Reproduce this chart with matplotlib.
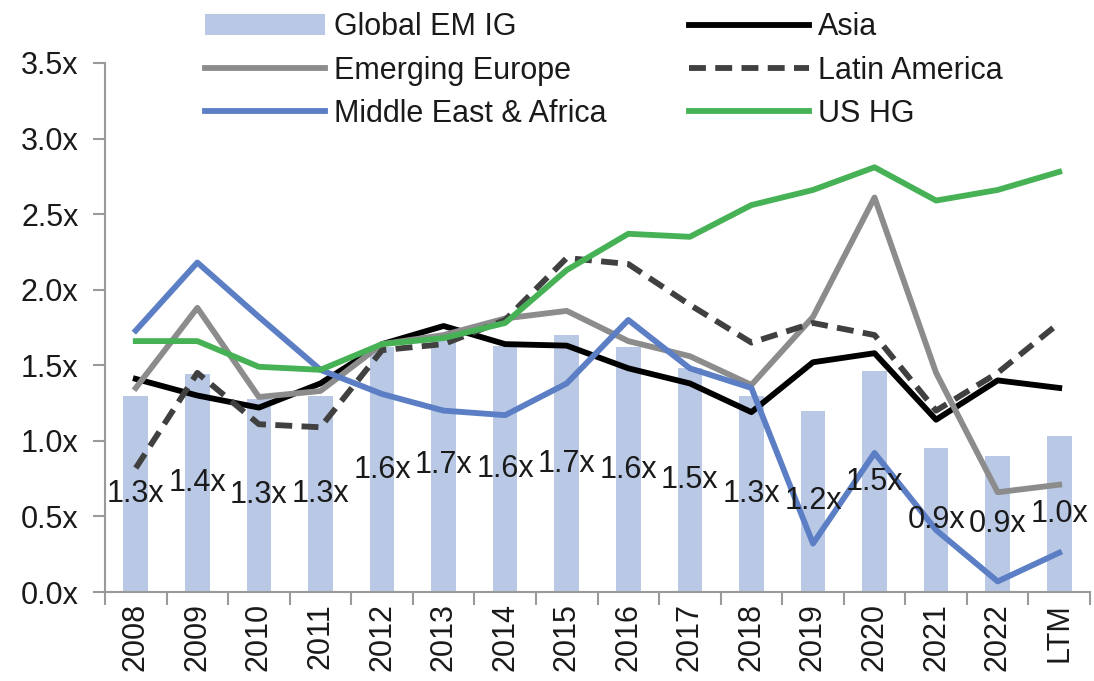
import numpy as np
import matplotlib
matplotlib.use("Agg")
import matplotlib.pyplot as plt

# ────────────────────────────────────────────────────────────────
# DATA
# ────────────────────────────────────────────────────────────────
years = ["2008", "2009", "2010", "2011", "2012", "2013", "2014", "2015",
         "2016", "2017", "2018", "2019", "2020", "2021", "2022", "LTM"]

global_em_ig = [1.30, 1.44, 1.28, 1.30, 1.62, 1.68, 1.63, 1.70,
                1.62, 1.48, 1.30, 1.20, 1.46, 0.95, 0.90, 1.03]
asia = [1.41, 1.30, 1.22, 1.38, 1.64, 1.76, 1.64, 1.63,
        1.48, 1.38, 1.19, 1.52, 1.58, 1.14, 1.40, 1.35]
emerging_europe = [1.35, 1.88, 1.29, 1.33, 1.64, 1.70, 1.81, 1.86,
                   1.66, 1.56, 1.37, 1.82, 2.61, 1.45, 0.66, 0.71]
latin_america = [0.82, 1.45, 1.11, 1.09, 1.60, 1.64, 1.80, 2.21,
                 2.17, 1.90, 1.65, 1.78, 1.70, 1.20, 1.45, 1.78]
mea = [1.73, 2.18, 1.82, 1.47, 1.31, 1.20, 1.17, 1.38,
       1.80, 1.48, 1.35, 0.32, 0.92, 0.41, 0.07, 0.26]
us_hg = [1.66, 1.66, 1.49, 1.47, 1.64, 1.68, 1.78, 2.13,
         2.37, 2.35, 2.56, 2.66, 2.81, 2.59, 2.66, 2.78]

# ────────────────────────────────────────────────────────────────
# STYLE
# ────────────────────────────────────────────────────────────────
plt.rcParams['font.family'] = ['Liberation Sans', 'DejaVu Sans']
FS = 22
TXT = '#1a1a1a'
AXIS_GREY = '#9a9a9a'
LW = 4.2

fig = plt.figure(figsize=(10.94, 6.81), dpi=100)
ax = fig.add_axes([105 / 1094, 1 - 592 / 681, (1090 - 105) / 1094, (592 - 63) / 681])

x = np.arange(len(years))

bars = ax.bar(x, global_em_ig, width=0.4, color='#b9c9e5', label='Global EM IG', zorder=1)
l_asia, = ax.plot(x, asia, color='black', lw=LW, label='Asia', zorder=3)
l_ee, = ax.plot(x, emerging_europe, color='#8c8c8c', lw=LW, label='Emerging Europe', zorder=3)
l_lat, = ax.plot(x, latin_america, color='#404040', lw=LW, label='Latin America',
                 dashes=(2.9, 1.6), zorder=3)
l_mea, = ax.plot(x, mea, color='#5b7ec4', lw=LW, label='Middle East & Africa', zorder=3)
l_us, = ax.plot(x, us_hg, color='#46b255', lw=LW, label='US HG', zorder=3)

# data labels at the middle of each bar
for xi, v in zip(x, global_em_ig):
    ax.text(xi, v / 2, f"{v:.1f}x", ha='center', va='center', fontsize=FS,
            color=TXT, zorder=4)

# ────────────────────────────────────────────────────────────────
# AXES
# ────────────────────────────────────────────────────────────────
ax.set_ylim(0, 3.5)
ax.set_xlim(-0.5, len(years) - 0.5)
ax.set_yticks(np.arange(0, 3.51, 0.5))
ax.set_yticklabels([f"{t:.1f}x" for t in np.arange(0, 3.51, 0.5)])
ax.set_xticks(x)
ax.set_xticklabels(years, rotation=90)
ax.set_xticks(np.arange(-0.5, len(years), 1.0), minor=True)
ax.tick_params(axis='x', which='major', length=0, pad=8, labelsize=FS, labelcolor=TXT)
ax.tick_params(axis='x', which='minor', length=9, width=1.5, color=AXIS_GREY)
ax.tick_params(axis='y', length=9, width=1.5, color=AXIS_GREY, labelsize=FS,
               labelcolor=TXT, pad=10)

for s in ['top', 'right']:
    ax.spines[s].set_visible(False)
for s in ['left', 'bottom']:
    ax.spines[s].set_color(AXIS_GREY)
    ax.spines[s].set_linewidth(1.5)

handles = [bars, l_ee, l_mea, l_asia, l_lat, l_us]
fig.legend(handles=handles, labels=[h.get_label() for h in handles], ncol=2,
           loc='upper left', bbox_to_anchor=(187 / 1094, 1.009), frameon=False,
           fontsize=FS, handlelength=3.9, handletextpad=0.3, columnspacing=2.72,
           labelspacing=0.44, borderaxespad=0.2)
for t in fig.legends[0].get_texts():
    t.set_color(TXT)

fig.savefig("out.png", dpi=100)
